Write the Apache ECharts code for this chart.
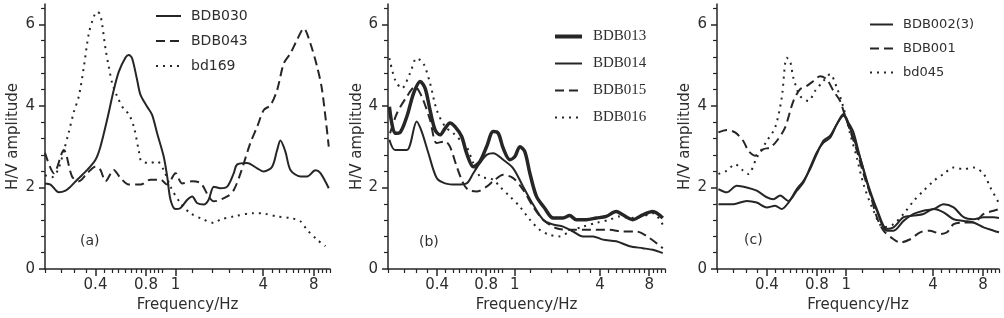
<!DOCTYPE html>
<html>
<head>
<meta charset="utf-8">
<script src="https://cdn.jsdelivr.net/npm/echarts@6/dist/echarts.min.js"></script>
<style>
html,body{margin:0;padding:0;background:#fff;}
#main{width:1004px;height:318px;}
</style>
</head>
<body>
<div id="main"></div>
<script>
// 频率刻度（对数轴），标注位置与文字
var xMinorTicks = [0.2,0.25,0.3,0.35,0.45,0.5,0.55,0.6,0.65,0.7,0.75,0.85,0.9,0.95,1.0,1.5,2,2.5,3,3.5,4.5,5,5.5,6,6.5,7,7.5,8.5,9,9.5,10];
var xLabelValues = [0.4,0.8,1.2,4,8];
var xLabelTexts = ['0.4','0.8','1','4','8'];
var yMinorTicks = [0.4,0.8,1.2,1.6,2.4,2.8,3.2,3.6,4.4,4.8,5.2,5.6,6.4];
var yLabelValues = [0,2,4,6];

// (a)
var bdb030 = [[0.2,2.1],[0.216,2.07],[0.242,1.88],[0.265,1.92],[0.284,2.02],[0.311,2.19],[0.357,2.43],[0.4,2.68],[0.428,3.0],[0.469,3.66],[0.514,4.39],[0.551,4.84],[0.604,5.19],[0.632,5.25],[0.661,5.17],[0.708,4.64],[0.742,4.27],[0.813,3.98],[0.87,3.78],[0.932,3.33],[1.02,2.76],[1.07,2.27],[1.12,1.7],[1.2,1.47],[1.28,1.49],[1.41,1.7],[1.51,1.78],[1.61,1.62],[1.77,1.58],[1.89,1.7],[2.03,2.02],[2.22,1.98],[2.44,2.02],[2.67,2.35],[2.79,2.56],[3.2,2.6],[3.68,2.47],[4.03,2.39],[4.52,2.51],[4.84,2.92],[5.06,3.15],[5.42,2.88],[5.81,2.43],[6.66,2.27],[7.3,2.27],[8.19,2.42],[8.77,2.35],[9.83,1.98]];
var bdb043 = [[0.2,2.85],[0.226,2.35],[0.259,2.92],[0.29,2.27],[0.318,2.15],[0.357,2.35],[0.4,2.51],[0.428,2.43],[0.459,2.15],[0.514,2.43],[0.564,2.23],[0.632,2.07],[0.742,2.07],[0.85,2.19],[0.976,2.19],[1.07,2.07],[1.2,2.35],[1.313,2.1],[1.51,2.15],[1.7,2.1],[1.89,1.78],[2.03,1.66],[2.44,1.78],[2.67,1.94],[2.93,2.35],[3.35,3.09],[3.68,3.49],[4.03,3.9],[4.42,4.02],[4.84,4.39],[5.3,5.04],[5.81,5.29],[6.36,5.62],[6.98,5.9],[7.64,5.53],[8.38,4.96],[8.97,4.39],[9.83,3.0]];
var bd169 = [[0.2,2.3],[0.22,2.25],[0.24,2.45],[0.259,2.9],[0.277,3.35],[0.297,3.85],[0.318,4.23],[0.341,4.96],[0.365,5.78],[0.391,6.19],[0.409,6.31],[0.428,6.23],[0.459,5.4],[0.48,4.96],[0.503,4.56],[0.539,4.23],[0.59,3.92],[0.632,3.8],[0.677,3.49],[0.725,2.9],[0.75,2.65],[0.85,2.6],[0.932,2.64],[1.02,2.43],[1.12,2.02],[1.28,1.62],[1.47,1.37],[1.77,1.21],[2.03,1.13],[2.22,1.21],[2.67,1.29],[3.51,1.37],[4.03,1.36],[4.84,1.29],[5.81,1.25],[6.66,1.17],[7.3,0.96],[8.38,0.72],[9.39,0.56]];

// (b)
var bdb013 = [[0.204,3.98],[0.221,3.33],[0.237,3.35],[0.261,3.74],[0.287,4.31],[0.315,4.6],[0.338,4.43],[0.362,3.9],[0.389,3.41],[0.417,3.29],[0.448,3.45],[0.48,3.58],[0.515,3.49],[0.566,3.25],[0.607,2.84],[0.667,2.51],[0.733,2.64],[0.805,3.0],[0.884,3.37],[0.949,3.33],[1.018,2.96],[1.118,2.68],[1.2,2.76],[1.288,3.0],[1.381,2.88],[1.483,2.35],[1.628,1.78],[1.83,1.49],[2.059,1.25],[2.37,1.25],[2.6,1.31],[2.86,1.21],[3.29,1.21],[3.79,1.25],[4.36,1.29],[5.02,1.41],[5.51,1.33],[6.35,1.21],[7.31,1.33],[8.42,1.41],[9.69,1.25]];
var bdb014 = [[0.204,3.17],[0.221,2.92],[0.261,2.92],[0.3,3.62],[0.322,3.37],[0.354,2.84],[0.398,2.23],[0.448,2.1],[0.528,2.07],[0.607,2.1],[0.667,2.35],[0.733,2.6],[0.805,2.8],[0.884,2.84],[1.018,2.68],[1.172,2.47],[1.349,2.02],[1.553,1.58],[1.788,1.21],[2.059,1.09],[2.37,1.04],[2.73,0.92],[3.14,0.8],[3.62,0.8],[4.16,0.72],[5.02,0.68],[6.06,0.56],[7.31,0.51],[8.42,0.47],[9.69,0.39]];
var bdb015 = [[0.206,3.33],[0.227,3.82],[0.261,4.23],[0.293,4.47],[0.322,4.23],[0.362,3.66],[0.398,3.09],[0.448,3.13],[0.48,3.0],[0.528,2.51],[0.579,2.1],[0.622,1.94],[0.699,1.9],[0.805,2.02],[0.905,2.19],[1.018,2.31],[1.172,2.23],[1.349,1.94],[1.553,1.53],[1.788,1.21],[2.158,1.0],[2.6,0.96],[3.14,0.96],[3.79,0.96],[4.57,0.96],[5.51,0.92],[6.66,0.92],[8.03,0.76],[9.69,0.51]];
var bdb016 = [[0.204,5.17],[0.221,4.64],[0.243,4.43],[0.273,4.8],[0.3,5.17],[0.33,5.04],[0.362,4.56],[0.398,3.9],[0.448,3.49],[0.503,3.33],[0.553,3.17],[0.607,3.0],[0.667,2.6],[0.733,2.27],[0.805,2.23],[0.884,2.19],[0.971,2.02],[1.118,1.78],[1.288,1.53],[1.483,1.21],[1.706,0.96],[1.96,0.84],[2.26,0.8],[2.6,0.92],[3.14,1.04],[3.79,1.13],[4.57,1.21],[5.26,1.29],[6.06,1.25],[7.31,1.29],[8.42,1.37],[9.69,1.09]];

// (c)
var bdb002a = [[0.204,1.96],[0.229,1.88],[0.263,2.04],[0.302,2.0],[0.347,1.92],[0.399,1.76],[0.437,1.71],[0.48,1.8],[0.539,1.67],[0.605,1.92],[0.663,2.12],[0.728,2.49],[0.798,2.86],[0.876,3.1],[0.961,3.22],[1.054,3.55],[1.156,3.8],[1.239,3.59],[1.328,3.35],[1.457,2.73],[1.635,2.0],[1.837,1.43],[2.11,0.94],[2.315,0.94],[2.66,1.18],[3.06,1.35],[3.51,1.43],[4.04,1.47],[4.635,1.59],[5.33,1.51],[6.12,1.27],[7.03,1.22],[8.08,1.27],[9.285,1.27],[10,1.25]];
var bdb002b = [[0.204,1.59],[0.251,1.59],[0.302,1.67],[0.347,1.63],[0.399,1.51],[0.448,1.55],[0.491,1.47],[0.539,1.63],[0.605,1.96],[0.663,2.16],[0.728,2.45],[0.798,2.82],[0.876,3.15],[0.961,3.27],[1.054,3.55],[1.156,3.76],[1.239,3.55],[1.328,3.22],[1.457,2.73],[1.635,2.04],[1.837,1.47],[2.11,0.98],[2.315,1.02],[2.66,1.27],[3.06,1.31],[3.51,1.35],[4.04,1.47],[4.635,1.39],[5.33,1.22],[6.12,1.18],[7.03,1.14],[8.08,1.02],[9.285,0.94],[10,0.9]];
var bdb001 = [[0.204,3.35],[0.229,3.41],[0.257,3.35],[0.288,3.14],[0.309,2.9],[0.339,2.78],[0.381,2.94],[0.418,2.98],[0.458,3.14],[0.514,3.47],[0.577,4.12],[0.634,4.41],[0.695,4.49],[0.762,4.61],[0.836,4.73],[0.917,4.65],[1.006,4.37],[1.104,4.12],[1.156,3.88],[1.269,3.39],[1.392,2.9],[1.526,2.33],[1.674,1.84],[1.837,1.27],[2.015,0.94],[2.315,0.73],[2.54,0.65],[2.918,0.73],[3.35,0.9],[3.85,0.94],[4.45,0.86],[4.86,0.9],[5.33,1.1],[6.12,1.14],[7.03,1.14],[8.08,1.35],[9.285,1.43],[10,1.47]];
var bd045 = [[0.204,2.33],[0.229,2.41],[0.257,2.57],[0.288,2.41],[0.309,2.33],[0.347,2.73],[0.399,3.14],[0.448,3.47],[0.491,4.2],[0.526,5.18],[0.551,5.1],[0.577,4.69],[0.634,4.24],[0.711,4.12],[0.78,4.37],[0.876,4.61],[0.961,4.78],[1.054,4.45],[1.156,3.96],[1.269,3.31],[1.392,2.73],[1.526,2.08],[1.754,1.43],[2.015,1.02],[2.315,1.1],[2.66,1.35],[3.06,1.67],[3.51,1.92],[4.04,2.16],[4.635,2.33],[5.33,2.49],[6.12,2.45],[7.03,2.49],[8.08,2.33],[8.87,2.0],[9.95,1.63]];

var ink = '#262626';
var txt = '#2e2e2e';
var grids = [
	{left:45, top:4, width:285, height:265, outerBoundsMode:'none'},
	{left:388, top:4, width:277, height:265, outerBoundsMode:'none'},
	{left:717, top:4, width:282, height:265, outerBoundsMode:'none'}
];
var yNameGaps = [24, 21, 24];

var xAxes = [];
var yAxes = [];
for (var i = 0; i < 3; i++) {
	// 次刻度
	xAxes.push({
		gridIndex:i, type:'log', min:0.2, max:10, position:'bottom',
		axisLine:{lineStyle:{color:ink, width:1.5}},
		axisTick:{length:4, customValues:xMinorTicks, lineStyle:{color:ink, width:1.2}},
		axisLabel:{show:false},
		splitLine:{show:false}
	});
	// 主刻度和标签
	xAxes.push({
		gridIndex:i, type:'log', min:0.2, max:10, position:'bottom',
		axisLine:{show:false},
		axisTick:{length:7, customValues:xLabelValues, lineStyle:{color:ink, width:1.5}},
		axisLabel:{
			customValues:xLabelValues, margin:9, color:txt, fontSize:15, fontFamily:'DejaVu Sans',
			formatter:function(v){
				for (var k = 0; k < xLabelValues.length; k++) {
					if (Math.abs(xLabelValues[k] - v) < 1e-6) return xLabelTexts[k];
				}
				return '';
			}
		},
		splitLine:{show:false},
		name:'Frequency/Hz', nameLocation:'middle', nameGap:28,
		nameTextStyle:{color:txt, fontSize:15, fontFamily:'DejaVu Sans'}
	});
	// y 次刻度
	yAxes.push({
		gridIndex:i, type:'value', min:0, max:6.5, position:'left',
		axisLine:{show:true, lineStyle:{color:ink, width:1.5}},
		axisTick:{show:true, length:4, customValues:yMinorTicks, lineStyle:{color:ink, width:1.2}},
		axisLabel:{show:false},
		splitLine:{show:false}
	});
	yAxes.push({
		gridIndex:i, type:'value', min:0, max:6.5, position:'left',
		axisLine:{show:false},
		axisTick:{show:true, length:6, customValues:yLabelValues, lineStyle:{color:ink, width:1.5}},
		axisLabel:{customValues:yLabelValues, margin:10, color:txt, fontSize:15, fontFamily:'DejaVu Sans'},
		splitLine:{show:false},
		name:'H/V amplitude', nameLocation:'middle', nameGap:yNameGaps[i],
		nameTextStyle:{color:txt, fontSize:15, fontFamily:'DejaVu Sans'}
	});
}

function line(name, data, panel, type, width){
	return {
		name:name, type:'line', data:data,
		xAxisIndex:panel*2+1, yAxisIndex:panel*2+1,
		symbol:'none', showSymbol:false, smooth:0.3,
		lineStyle:{color:ink, width:width, type:type},
		itemStyle:{color:ink},
		z:3
	};
}
var dash = [9,5];
var dot = [2,5];

var option = {
	animation:false,
	backgroundColor:'#fff',
	grid:grids,
	xAxis:xAxes,
	yAxis:yAxes,
	legend:[
		{left:155, top:9, orient:'vertical', padding:0, itemWidth:25, itemHeight:14, itemGap:11,
		 itemStyle:{opacity:0},
		 data:['BDB030','BDB043','bd169'],
		 textStyle:{color:txt, fontSize:14, fontFamily:'DejaVu Sans', padding:[0,0,0,5]}},
		{left:553, top:29, orient:'vertical', padding:0, itemWidth:27, itemHeight:14, itemGap:12,
		 itemStyle:{opacity:0},
		 data:[{name:'BDB013', lineStyle:{width:4}},'BDB014','BDB015','BDB016'],
		 textStyle:{color:txt, fontSize:15, fontFamily:'Liberation Serif', padding:[0,0,0,6]}},
		{left:869, top:18, orient:'vertical', padding:0, itemWidth:23, itemHeight:14, itemGap:11,
		 itemStyle:{opacity:0},
		 data:['BDB002(3)','BDB001','bd045'],
		 textStyle:{color:txt, fontSize:13, fontFamily:'DejaVu Sans', padding:[0,0,0,5]}}
	],
	graphic:[
		{type:'text', left:80, top:234, style:{text:'(a)', fill:txt, font:'14px "DejaVu Sans"'}},
		{type:'text', left:419, top:235, style:{text:'(b)', fill:txt, font:'14px "DejaVu Sans"'}},
		{type:'text', left:744, top:233, style:{text:'(c)', fill:txt, font:'14px "DejaVu Sans"'}}
	],
	series:[
		line('BDB030', bdb030, 0, 'solid', 2),
		line('BDB043', bdb043, 0, dash, 2),
		line('bd169', bd169, 0, dot, 2),
		line('BDB013', bdb013, 1, 'solid', 3.5),
		line('BDB014', bdb014, 1, 'solid', 2),
		line('BDB015', bdb015, 1, dash, 2),
		line('BDB016', bdb016, 1, dot, 2),
		line('BDB002(3)', bdb002a, 2, 'solid', 2),
		line('BDB002(3)', bdb002b, 2, 'solid', 2),
		line('BDB001', bdb001, 2, dash, 2),
		line('bd045', bd045, 2, dot, 2)
	]
};

var myChart = echarts.init(document.getElementById('main'), null, {renderer:'canvas'});
myChart.setOption(option);
</script>
</body>
</html>
